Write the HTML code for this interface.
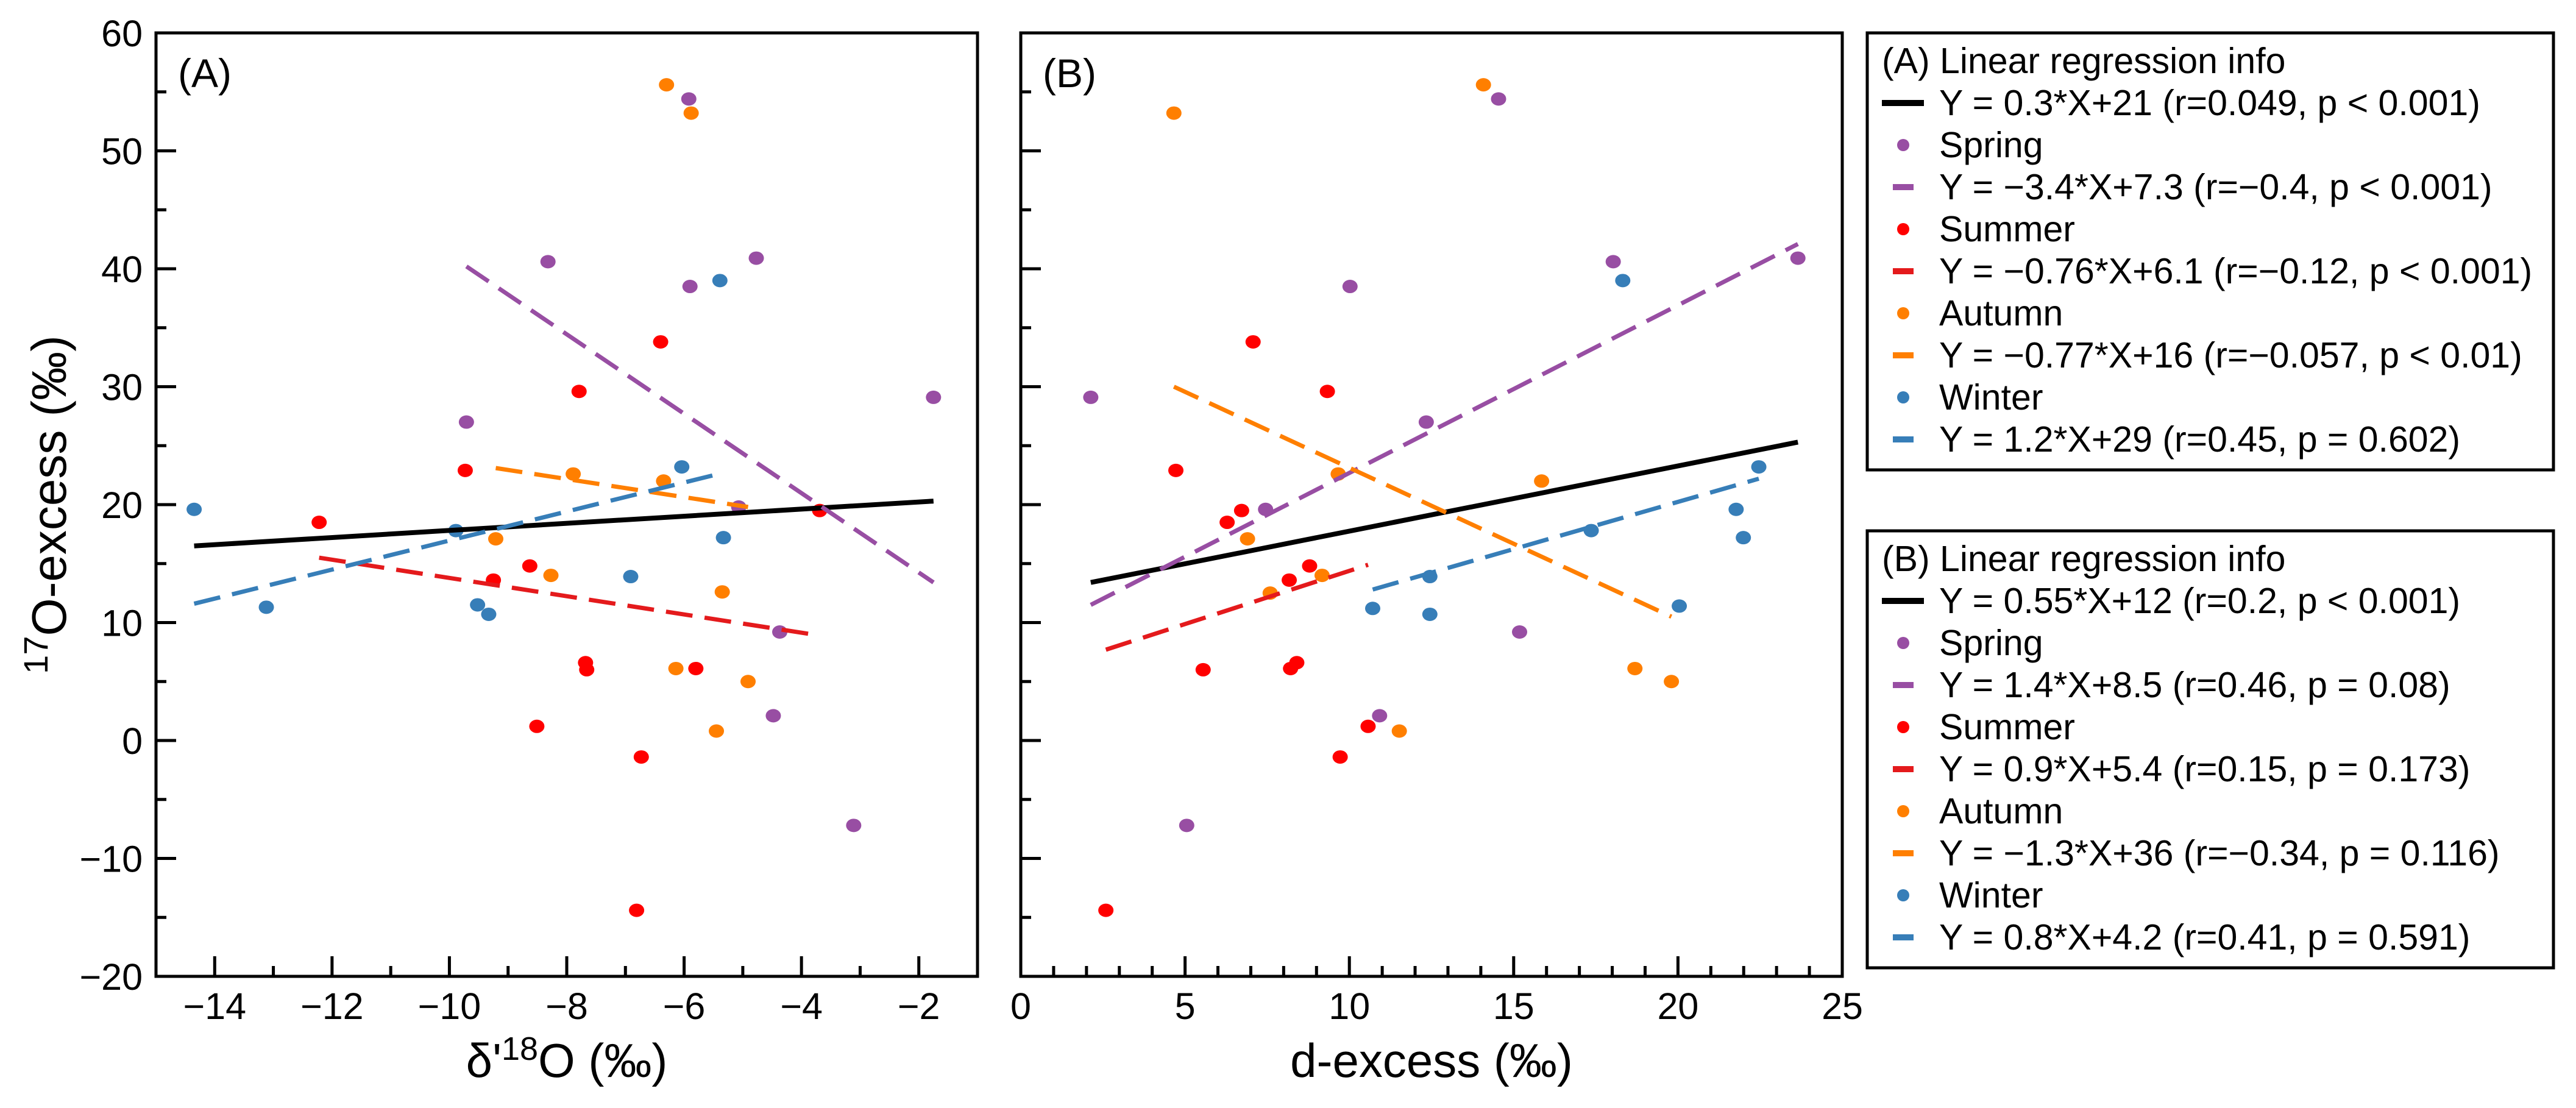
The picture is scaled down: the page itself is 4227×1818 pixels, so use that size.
<!DOCTYPE html>
<html><head><meta charset="utf-8">
<style>
html,body{margin:0;padding:0;background:#fff;}
svg{display:block;font-family:"Liberation Sans",Arial,sans-serif;}
</style></head>
<body>
<svg id="chart" width="4227" height="1818" viewBox="0 0 4227 1818" xmlns="http://www.w3.org/2000/svg"></svg>
<script>
// ---- data ----
const seasons = ["Spring","Summer","Autumn","Winter"];
const seasonColors = ["#984ea3","#ff0000","#ff7f00","#377eb8"];
const lineColors = ["#984ea3","#e41a1c","#ff7f00","#377eb8"];
// Panel A: x = d'18O, y = 17O-excess
const springA_x = [-5.92,-8.32,-4.77,-5.90,-9.71,-1.75,-5.07,-4.37,-4.48,-3.11];
const springA_y = [54.4,40.6,40.9,38.5,27.0,29.1,19.8,9.2,2.1,-7.2];
const summerA_x = [-6.40,-7.79,-9.73,-12.22,-3.69,-8.63,-9.25,-7.68,-7.66,-5.80,-8.51,-6.73,-6.81];
const summerA_y = [33.8,29.6,22.9,18.5,19.5,14.8,13.6,6.6,6.0,6.1,1.2,-1.4,-14.4];
const autumnA_x = [-6.30,-5.88,-7.89,-6.35,-9.21,-8.27,-5.35,-6.14,-4.91,-5.45];
const autumnA_y = [55.6,53.2,22.6,22.0,17.1,14.0,12.6,6.1,5.0,0.8];
const winterA_x = [-14.35,-13.12,-9.89,-9.52,-9.33,-6.91,-6.04,-5.39,-5.33];
const winterA_y = [19.6,11.3,17.8,11.5,10.7,13.9,23.2,39.0,17.2];
// Panel B: x = d-excess
const springB_x = [14.54,18.03,23.65,10.02,12.34,2.13,7.45,15.18,10.92,5.05];
const springB_y = [54.4,40.6,40.9,38.5,27.0,29.1,19.6,9.2,2.1,-7.2];
const summerB_x = [7.07,9.33,4.72,6.28,6.72,8.79,8.17,8.40,8.21,5.55,10.57,9.72,2.59];
const summerB_y = [33.8,29.6,22.9,18.5,19.5,14.8,13.6,6.6,6.1,6.0,1.2,-1.4,-14.4];
const autumnB_x = [4.66,14.08,9.66,15.85,6.90,7.59,9.17,18.69,19.80,11.52];
const autumnB_y = [53.2,55.6,22.6,22.0,17.1,12.5,14.0,6.1,5.0,0.8];
const winterB_x = [18.32,22.46,21.77,21.99,17.36,20.04,12.45,12.45,10.71];
const winterB_y = [39.0,23.2,19.6,17.2,17.8,11.4,13.9,10.7,11.2];
// regression line endpoints: [all, spring, summer, autumn, winter]
const fitA_x0 = [-14.35,-9.71,-12.22,-9.21,-14.35];
const fitA_y0 = [16.5,40.2,15.5,23.1,11.6];
const fitA_x1 = [-1.75,-1.75,-3.69,-4.91,-5.33];
const fitA_y1 = [20.3,13.4,8.9,19.8,22.7];
const fitB_x0 = [2.13,2.13,2.59,4.66,10.71];
const fitB_y0 = [13.4,11.5,7.7,30.0,12.8];
const fitB_x1 = [23.65,23.65,10.57,19.80,22.46];
const fitB_y1 = [25.3,42.1,14.9,10.5,22.2];
const yTicks = [60,50,40,30,20,10,0,-10,-20];
const xTicksA = [-14,-12,-10,-8,-6,-4,-2];
const xTicksB = [0,5,10,15,20,25];
const legendA = ["Y = 0.3*X+21 (r=0.049, p < 0.001)","Y = \u22123.4*X+7.3 (r=\u22120.4, p < 0.001)","Y = \u22120.76*X+6.1 (r=\u22120.12, p < 0.001)","Y = \u22120.77*X+16 (r=\u22120.057, p < 0.01)","Y = 1.2*X+29 (r=0.45, p = 0.602)"];
const legendB = ["Y = 0.55*X+12 (r=0.2, p < 0.001)","Y = 1.4*X+8.5 (r=0.46, p = 0.08)","Y = 0.9*X+5.4 (r=0.15, p = 0.173)","Y = \u22121.3*X+36 (r=\u22120.34, p = 0.116)","Y = 0.8*X+4.2 (r=0.41, p = 0.591)"];

// ---- layout ----
const svg = document.getElementById('chart');
const NS = "http://www.w3.org/2000/svg";
function mk(tag, attrs, parent){const e=document.createElementNS(NS,tag);for(const k in attrs)e.setAttribute(k,attrs[k]);(parent||svg).appendChild(e);return e;}
const TOP=54, BOT=1602, YMIN=-20, YMAX=60;
const yS = v => BOT - (v-YMIN)/(YMAX-YMIN)*(BOT-TOP);
const A = {l:256, r:1604, xmin:-15, xmax:-1};
const B = {l:1675, r:3023, xmin:0, xmax:25};
const xS = (p,v) => p.l + (v-p.xmin)/(p.xmax-p.xmin)*(p.r-p.l);

function panel(p, name, label, xt, minorStep, xtitleParts, showY){
  const g = mk('g',{});
  
  
  for(let v=YMIN; v<=YMAX; v+=5){
    const major = v%10===0;
    const L = major?33:17;
    const t=mk('line',{x1:p.l,y1:yS(v),x2:p.l+L,y2:yS(v),stroke:'#000','stroke-width':5},g);
    
    
  }
  if(showY){
    yTicks.forEach(v=>{
      const t=mk('text',{x:234,y:yS(v)+22,'font-size':61,'text-anchor':'end'},g);
      t.textContent = v<0 ? '\u2212'+Math.abs(v) : String(v);
      
      
    });
  }
  for(let v=Math.ceil(p.xmin); v<=p.xmax; v+=minorStep){
    const major = xt.includes(v);
    const L = major?33:17;
    const t=mk('line',{x1:xS(p,v),y1:BOT,x2:xS(p,v),y2:BOT-L,stroke:'#000','stroke-width':5},g);
    
    
  }
  xt.forEach(v=>{
    const t=mk('text',{x:xS(p,v),y:1672,'font-size':61,'text-anchor':'middle'},g);
    t.textContent = v<0 ? '\u2212'+Math.abs(v) : String(v);
    
    
  });
  const fr=mk('rect',{x:p.l,y:TOP,width:p.r-p.l,height:BOT-TOP,fill:'none',stroke:'#000','stroke-width':5},g);
  
  
  const lb=mk('text',{x:p.l+36,y:143,'font-size':66},g);
  lb.textContent=label;
  
  
  const xt2=mk('text',{x:(p.l+p.r)/2,y:1767,'font-size':78,'text-anchor':'middle'},g);
  
  
  xtitleParts(xt2);
  return g;
}
function tspan(parent, txt, attrs){const t=mk('tspan',attrs||{},parent);t.textContent=txt;return t;}

const gA = panel(A,'panel-a','(A)',xTicksA,1,t=>{tspan(t,"\u03b4'");tspan(t,"18",{'font-size':54,dy:-28});tspan(t,"O (\u2030)",{dy:28});},true);
const gB = panel(B,'panel-b','(B)',xTicksB,1,t=>{tspan(t,"d-excess (\u2030)");},false);

const yt = mk('text',{x:0,y:0,'font-size':80,'text-anchor':'middle',transform:'translate(108,828) rotate(-90)'});


tspan(yt,"17",{'font-size':56,dy:-30});
tspan(yt,"O-excess (\u2030)",{dy:30});

function drawFits(p, g, x0,y0,x1,y1){
  for(let i=0;i<x0.length;i++){
    const col = i===0 ? '#000' : lineColors[i-1];
    const l=mk('line',{x1:xS(p,x0[i]),y1:yS(y0[i]),x2:xS(p,x1[i]),y2:yS(y1[i]),stroke:col,'stroke-width':i===0?8:7,'stroke-dasharray':i===0?'none':'44 20'},g);
    
    
  }
}
function drawPts(p,g,xs,ys,si){
  for(let i=0;i<xs.length;i++){
    const c=mk('ellipse',{cx:xS(p,xs[i]),cy:yS(ys[i]),rx:12.5,ry:11,fill:seasonColors[si]},g);
    
    
  }
}
drawPts(A,gA,springA_x,springA_y,0);drawPts(A,gA,summerA_x,summerA_y,1);drawPts(A,gA,autumnA_x,autumnA_y,2);drawPts(A,gA,winterA_x,winterA_y,3);
drawFits(A,gA,fitA_x0,fitA_y0,fitA_x1,fitA_y1);
drawPts(B,gB,springB_x,springB_y,0);drawPts(B,gB,summerB_x,summerB_y,1);drawPts(B,gB,autumnB_x,autumnB_y,2);drawPts(B,gB,winterB_x,winterB_y,3);
drawFits(B,gB,fitB_x0,fitB_y0,fitB_x1,fitB_y1);

function legend(top, title, eqs, name){
  const g=mk('g',{});
  
  
  const r=mk('rect',{x:3064,y:top,width:1126,height:717,fill:'#fff',stroke:'#000','stroke-width':5},g);
  
  
  const base = top+66, P=69, tx=3182;
  const t0=mk('text',{x:3088,y:base,'font-size':59},g);t0.textContent=title;
  
  
  const yc = rr => base + rr*P - 20;
  const bl=mk('line',{x1:3088,y1:yc(1),x2:3157,y2:yc(1),stroke:'#000','stroke-width':10},g);
  
  
  const te=mk('text',{x:tx,y:base+P,'font-size':59},g);te.textContent=eqs[0];
  
  
  for(let s=0;s<4;s++){
    const rs=2+s*2, rl=3+s*2;
    const d=mk('circle',{cx:3123,cy:yc(rs),r:10,fill:seasonColors[s]},g);
    
    
    const tn=mk('text',{x:tx,y:base+rs*P,'font-size':59},g);tn.textContent=seasons[s];
    
    
    const ls=mk('line',{x1:3106,y1:yc(rl),x2:3140,y2:yc(rl),stroke:lineColors[s],'stroke-width':10},g);
    
    
    const tq=mk('text',{x:tx,y:base+rl*P,'font-size':59},g);tq.textContent=eqs[s+1];
    
    
  }
}
legend(54,"(A) Linear regression info",legendA,'legend-a');
legend(871,"(B) Linear regression info",legendB,'legend-b');
</script>
</body></html>
